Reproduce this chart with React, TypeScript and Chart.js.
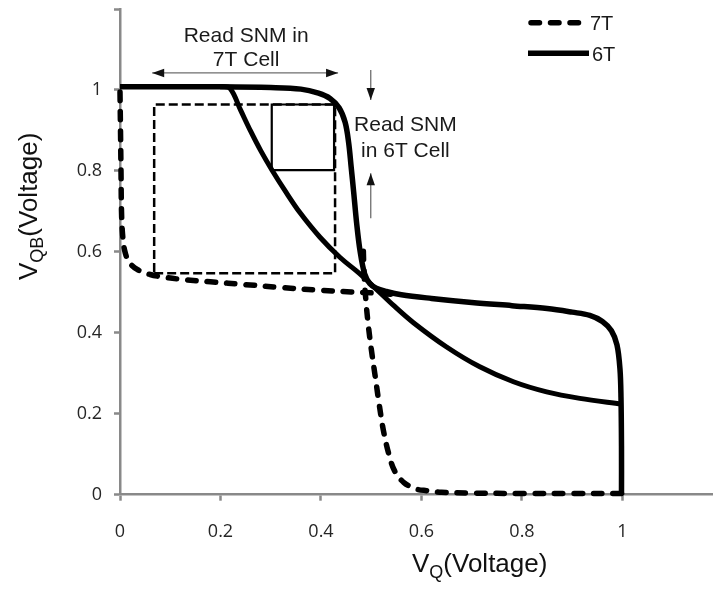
import React, { useEffect, useRef } from 'react';
import { Chart, registerables } from 'chart.js';

Chart.register(...registerables);

// ---- axis ticks ----
const xTickValues = [0, 0.2, 0.4, 0.6, 0.8, 1];
const xTickLabels = ['0', '0.2', '0.4', '0.6', '0.8', '1'];
const yTickValues = [0, 0.2, 0.4, 0.6, 0.8, 1, 1.2];
const yTickLabels = ['0', '0.2', '0.4', '0.6', '0.8', '1', ''];

// ---- series names ----
const seriesNames = ['7T', '6T'];

// ---- 6T curve A (flat -> steep drop -> gentle -> vertical at VQ=1) ----
const t6aX = [0, 0.1, 0.2, 0.3, 0.36, 0.395, 0.418, 0.436, 0.448, 0.455, 0.46, 0.465, 0.471, 0.478, 0.487, 0.497, 0.51, 0.53, 0.56, 0.62, 0.7, 0.78, 0.85, 0.9, 0.935, 0.96, 0.978, 0.989, 0.995, 0.997, 0.998, 0.998];
const t6aY = [1.008, 1.008, 1.008, 1.006, 1.002, 0.992, 0.979, 0.956, 0.92, 0.87, 0.81, 0.748, 0.67, 0.6, 0.545, 0.522, 0.51, 0.502, 0.494, 0.485, 0.475, 0.467, 0.46, 0.451, 0.443, 0.428, 0.405, 0.37, 0.31, 0.24, 0.12, 0.0];

// ---- 6T curve B (smooth curve from top to VQ=1) ----
const t6bX = [0.2, 0.219, 0.24, 0.26, 0.28, 0.302, 0.33, 0.358, 0.398, 0.438, 0.478, 0.51, 0.545, 0.584, 0.65, 0.716, 0.783, 0.849, 0.915, 0.998];
const t6bY = [1.008, 1.004, 0.95, 0.898, 0.85, 0.803, 0.748, 0.697, 0.636, 0.586, 0.545, 0.508, 0.467, 0.425, 0.365, 0.316, 0.279, 0.254, 0.238, 0.224];

// ---- 7T curve P (vertical at VQ=0 -> gentle) ----
const t7aX = [0, 0.001, 0.002, 0.003, 0.005, 0.009, 0.018, 0.035, 0.06, 0.09, 0.13, 0.18, 0.25, 0.32, 0.4, 0.46, 0.51, 0.55];
const t7aY = [0.995, 0.9, 0.8, 0.7, 0.645, 0.605, 0.575, 0.556, 0.544, 0.537, 0.531, 0.526, 0.519, 0.512, 0.505, 0.501, 0.498, 0.494];

// ---- 7T curve Q (flat at VQB=0 -> steep rise) ----
const t7bX = [0.998, 0.9, 0.8, 0.7, 0.64, 0.61, 0.59, 0.565, 0.546, 0.535, 0.524, 0.515, 0.507, 0.5, 0.494, 0.49, 0.487, 0.485, 0.484];
const t7bY = [0.003, 0.003, 0.003, 0.004, 0.006, 0.01, 0.014, 0.03, 0.06, 0.1, 0.16, 0.23, 0.3, 0.36, 0.42, 0.47, 0.52, 0.57, 0.62];

// ---- SNM boxes ----
const box7Tx = [0.068, 0.428, 0.428, 0.068, 0.068];
const box7Ty = [0.547, 0.547, 0.964, 0.964, 0.547];
const box6Tx = [0.302, 0.426, 0.426, 0.302, 0.302];
const box6Ty = [0.802, 0.802, 0.964, 0.964, 0.802];

// ---- annotation arrows (data coords) ----
const arrow7Tx = [0.064, 0.434];
const arrow7Ty = [1.042, 1.042];
const arrowDownX = [0.499, 0.499];
const arrowDownY = [1.049, 0.975];
const arrowUpX = [0.499, 0.499];
const arrowUpY = [0.683, 0.794];

// ---- annotation texts (data coords of line baselines) ----
const note7T = ['Read SNM in', '7T Cell'];
const note7Tx = [0.251, 0.251];
const note7Ty = [1.118, 1.058];
const note6T = ['Read SNM', 'in 6T Cell'];
const note6Tx = [0.568, 0.568];
const note6Ty = [0.899, 0.835];

const zip = (xs: number[], ys: number[]) => xs.map((x, i) => ({ x, y: ys[i] }));

const AXIS_GRAY = '#898989';
const TEXT_FONT = '"Liberation Sans", Arial, sans-serif';

function arrowHead(ctx: CanvasRenderingContext2D, x1: number, y1: number, x2: number, y2: number) {
  const a = Math.atan2(y2 - y1, x2 - x1);
  const L = 12, W = 4.2;
  const c = Math.cos(a), s = Math.sin(a);
  ctx.beginPath();
  ctx.moveTo(x2, y2);
  ctx.lineTo(x2 - L * c + W * s, y2 - L * s - W * c);
  ctx.lineTo(x2 - L * c - W * s, y2 - L * s + W * c);
  ctx.closePath();
  ctx.fill();
}

function drawArrow(ctx: CanvasRenderingContext2D, x1: number, y1: number, x2: number, y2: number, both: boolean) {
  ctx.save();
  ctx.strokeStyle = '#6e6e6e';
  ctx.lineWidth = 1.3;
  ctx.setLineDash([]);
  ctx.beginPath();
  ctx.moveTo(x1, y1);
  ctx.lineTo(x2, y2);
  ctx.stroke();
  ctx.fillStyle = '#111';
  arrowHead(ctx, x1, y1, x2, y2);
  if (both) arrowHead(ctx, x2, y2, x1, y1);
  ctx.restore();
}

const overlayPlugin = {
  id: 'overlay',
  afterDraw(chart: any) {
    const { ctx } = chart;
    const xs = chart.scales.x;
    const ys = chart.scales.y;
    const px = (v: number) => xs.getPixelForValue(v);
    const py = (v: number) => ys.getPixelForValue(v);
    ctx.save();

    // arrows
    drawArrow(ctx, px(arrow7Tx[0]), py(arrow7Ty[0]), px(arrow7Tx[1]), py(arrow7Ty[1]), true);
    drawArrow(ctx, px(arrowDownX[0]), py(arrowDownY[0]), px(arrowDownX[1]), py(arrowDownY[1]), false);
    drawArrow(ctx, px(arrowUpX[0]), py(arrowUpY[0]), px(arrowUpX[1]), py(arrowUpY[1]), false);

    // annotation texts
    ctx.fillStyle = '#1a1a1a';
    ctx.font = '21px ' + TEXT_FONT;
    ctx.textAlign = 'center';
    ctx.textBaseline = 'alphabetic';
    note7T.forEach((t, i) => ctx.fillText(t, px(note7Tx[i]), py(note7Ty[i])));
    note6T.forEach((t, i) => ctx.fillText(t, px(note6Tx[i]), py(note6Ty[i])));

    // legend
    const lx0 = 528;
    ctx.strokeStyle = '#000';
    ctx.lineWidth = 5.5;
    ctx.lineCap = 'round';
    ctx.setLineDash([8.5, 11]);
    ctx.beginPath();
    ctx.moveTo(lx0 + 3, 22.7);
    ctx.lineTo(580, 22.7);
    ctx.stroke();
    ctx.setLineDash([]);
    ctx.lineCap = 'butt';
    ctx.beginPath();
    ctx.moveTo(lx0, 53.3);
    ctx.lineTo(589, 53.3);
    ctx.stroke();
    ctx.font = '20px ' + TEXT_FONT;
    ctx.textAlign = 'left';
    ctx.fillText(seriesNames[0], 590, 30);
    ctx.fillText(seriesNames[1], 592, 61);

    // x axis title: V_Q(Voltage)
    ctx.fillStyle = '#111';
    let tx = 412;
    const tb = 571.5;
    ctx.font = '26px ' + TEXT_FONT;
    ctx.fillText('V', tx, tb);
    tx += ctx.measureText('V').width;
    ctx.font = '18px ' + TEXT_FONT;
    ctx.fillText('Q', tx, tb + 6);
    tx += ctx.measureText('Q').width;
    ctx.font = '26px ' + TEXT_FONT;
    ctx.fillText('(Voltage)', tx, tb);

    // y axis title: V_QB(Voltage), rotated
    ctx.save();
    ctx.translate(37, 280);
    ctx.rotate(-Math.PI / 2);
    let ty = 0;
    ctx.font = '26px ' + TEXT_FONT;
    ctx.fillText('V', ty, 0);
    ty += ctx.measureText('V').width;
    ctx.font = '18px ' + TEXT_FONT;
    ctx.fillText('QB', ty, 6);
    ty += ctx.measureText('QB').width;
    ctx.font = '26px ' + TEXT_FONT;
    ctx.fillText('(Voltage)', ty, 0);
    ctx.restore();

    ctx.restore();
  },
};

export default function App() {
  const ref = useRef<HTMLCanvasElement>(null);

  useEffect(() => {
    if (!ref.current) return;
    const curveBase = {
      showLine: true,
      pointRadius: 0,
      pointHoverRadius: 0,
      borderColor: '#000',
      backgroundColor: '#000',
      fill: false,
      clip: false as any,
    };
    const chart = new Chart(ref.current, {
      type: 'scatter',
      data: {
        datasets: [
          { ...curveBase, label: '6T', data: zip(t6aX, t6aY), borderWidth: 5.5, tension: 0.35, order: 1 },
          { ...curveBase, label: '6T mirror', data: zip(t6bX, t6bY), borderWidth: 5, tension: 0.35, order: 1 },
          { ...curveBase, label: '7T', data: zip(t7aX, t7aY), borderWidth: 5.5, tension: 0.35, borderDash: [8.5, 11], borderCapStyle: 'round', order: 5 },
          { ...curveBase, label: '7T mirror', data: zip(t7bX, t7bY), borderWidth: 5.5, tension: 0.35, borderDash: [8.5, 11], borderCapStyle: 'round', order: 5 },
          { ...curveBase, label: 'SNM 7T', data: zip(box7Tx, box7Ty), borderWidth: 2.5, tension: 0, borderDash: [9, 4], order: 10 },
          { ...curveBase, label: 'SNM 6T', data: zip(box6Tx, box6Ty), borderWidth: 2.2, tension: 0, order: 9 },
        ] as any,
      },
      options: {
        responsive: false,
        animation: false,
        devicePixelRatio: 1,
        layout: { padding: { top: 9, right: 0, left: 0, bottom: 0 } },
        plugins: {
          legend: { display: false },
          tooltip: { enabled: false },
          title: { display: false },
        },
        scales: {
          x: {
            type: 'linear',
            min: 0,
            max: 1.1801,
            afterBuildTicks: (s: any) => {
              s.ticks = xTickValues.map((v) => ({ value: v }));
            },
            afterFit: (s: any) => {
              s.height = 95.3;
              s.paddingLeft = 0;
              s.paddingRight = 0;
            },
            ticks: {
              callback: (_v: any, i: number) => xTickLabels[i],
              font: { family: '"Open Sans"', size: 18 },
              color: '#262626',
              padding: 20,
              maxRotation: 0,
            },
            grid: {
              display: true,
              drawOnChartArea: false,
              drawTicks: true,
              tickLength: 6,
              tickWidth: 2.5,
              tickColor: AXIS_GRAY,
            },
            border: { display: true, color: AXIS_GRAY, width: 2.5 },
          },
          y: {
            type: 'linear',
            min: 0,
            max: 1.2,
            afterBuildTicks: (s: any) => {
              s.ticks = yTickValues.map((v) => ({ value: v }));
            },
            afterFit: (s: any) => {
              s.width = 120;
              s.paddingTop = 0;
              s.paddingBottom = 0;
            },
            ticks: {
              callback: (_v: any, i: number) => yTickLabels[i],
              font: { family: '"Open Sans"', size: 18 },
              color: '#262626',
              padding: 12,
            },
            grid: {
              display: true,
              drawOnChartArea: false,
              drawTicks: true,
              tickLength: 6,
              tickWidth: 2.5,
              tickColor: AXIS_GRAY,
            },
            border: { display: true, color: AXIS_GRAY, width: 2.5 },
          },
        },
      } as any,
      plugins: [overlayPlugin],
    });
    return () => chart.destroy();
  }, []);

  return (
    <div style={{ position: 'absolute', left: 0, top: 0, width: 713, height: 590, background: '#fff' }}>
      <canvas ref={ref} width={713} height={590} style={{ display: 'block', width: 713, height: 590 }} />
    </div>
  );
}
